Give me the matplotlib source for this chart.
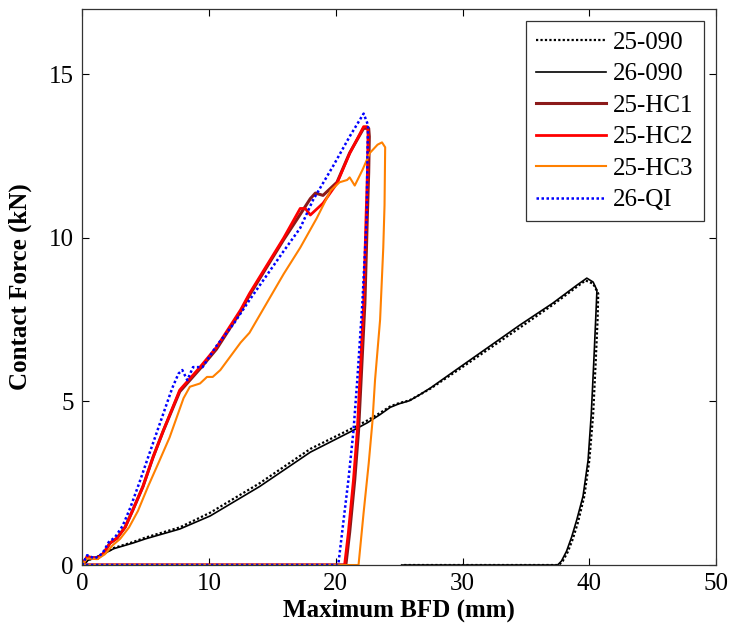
import matplotlib.pyplot as plt

# fonts: Times-like serif
plt.rcParams['font.family'] = 'Liberation Serif'
plt.rcParams['font.size'] = 18

# --- data ---
# 25-090 (dotted black)
x_25_090 = [0, 0.5, 1.5, 2.5, 4.0, 5.0, 7.7, 10.1, 14.0, 18.0, 21.4, 22.5, 23.5, 24.3, 25.0, 25.8,
            26.6, 27.5, 29.8, 34.5, 37.1, 39.0, 39.7, 40.3, 40.7, 40.65, 40.5, 40.3, 40.0, 39.6,
            39.1, 38.7, 38.3, 37.9, 37.6, 25.2]
y_25_090 = [0, 0.15, 0.3, 0.52, 0.7, 0.84, 1.15, 1.6, 2.5, 3.55, 4.2, 4.42, 4.65, 4.85, 4.95, 5.03,
            5.2, 5.4, 6.0, 7.25, 7.95, 8.5, 8.7, 8.6, 8.3, 7.5, 6.2, 4.6, 3.2, 2.1,
            1.3, 0.8, 0.4, 0.12, 0, 0]
# 26-090 (solid black)
x_26_090 = [0, 0.5, 1.5, 2.5, 4.0, 5.0, 7.7, 10.1, 14.0, 18.0, 21.4, 22.5, 23.5, 24.3, 25.0, 25.8,
            26.6, 27.5, 29.8, 34.5, 37.1, 39.0, 39.8, 40.3, 40.6, 40.5, 40.35, 40.15, 39.9, 39.5,
            39.0, 38.6, 38.2, 37.8, 37.5, 25.2]
y_26_090 = [0, 0.15, 0.3, 0.5, 0.67, 0.8, 1.1, 1.5, 2.4, 3.45, 4.12, 4.35, 4.6, 4.82, 4.93, 5.02,
            5.2, 5.42, 6.05, 7.33, 8.0, 8.55, 8.77, 8.65, 8.4, 7.5, 6.2, 4.6, 3.2, 2.1,
            1.37, 0.85, 0.42, 0.12, 0, 0]
# 25-HC1 (dark red)
x_hc1 = [0, 0.4, 1.2, 1.7, 2.2, 2.75, 3.4, 4.0, 4.8, 5.6, 6.4, 7.7, 9.3, 10.6, 12.5, 13.2,
         15.9, 17.0, 18.0, 18.4, 19.0, 20.1, 21.1, 22.2, 22.6,
         22.65, 22.6, 22.5, 22.3, 22.0, 21.8, 21.5, 21.1, 20.8, 0]
y_hc1 = [0, 0.25, 0.2, 0.36, 0.67, 0.82, 1.16, 1.68, 2.4, 3.3, 4.1, 5.3, 6.0, 6.6, 7.75, 8.25,
         9.95, 10.6, 11.2, 11.37, 11.3, 11.7, 12.6, 13.35, 13.35,
         13.1, 12.0, 10.75, 8.0, 5.65, 4.1, 2.6, 1.0, 0, 0]
# 25-HC2 (red)
x_hc2 = [0, 0.4, 1.2, 1.7, 2.2, 2.75, 3.4, 4.0, 4.8, 5.6, 6.4, 7.7, 9.3, 10.6, 12.5, 13.2,
         15.9, 17.2, 17.6, 18.0, 19.0, 20.1, 21.1, 22.2, 22.5,
         22.55, 22.5, 22.4, 22.2, 21.9, 21.7, 21.4, 21.0, 20.7, 0]
y_hc2 = [0, 0.25, 0.2, 0.36, 0.67, 0.82, 1.16, 1.68, 2.4, 3.3, 4.1, 5.35, 6.05, 6.66, 7.8, 8.3,
         10.0, 10.9, 10.9, 10.7, 11.06, 11.67, 12.58, 13.4, 13.4,
         13.2, 12.0, 10.75, 8.0, 5.65, 4.1, 2.6, 1.0, 0, 0]
# 25-HC3 (orange)
x_hc3 = [0, 0.4, 1.2, 1.8, 2.4, 3.0, 3.7, 4.4, 5.2, 6.0, 6.9, 8.0, 8.5, 9.3, 9.85, 10.3, 10.9,
         12.5, 13.2, 15.9, 17.2, 18.5, 19.6, 20.3, 20.9, 21.1, 21.5, 22.1, 22.7, 23.3, 23.65, 23.9,
         23.85, 23.75, 23.5, 23.1, 22.9, 22.6, 22.2, 21.8, 0]
y_hc3 = [0, 0.2, 0.18, 0.33, 0.6, 0.8, 1.15, 1.65, 2.4, 3.1, 3.9, 5.1, 5.45, 5.55, 5.75, 5.75, 5.96,
         6.8, 7.1, 8.9, 9.7, 10.6, 11.45, 11.7, 11.77, 11.85, 11.6, 12.07, 12.6, 12.85, 12.92, 12.77,
         11.0, 9.7, 7.5, 5.65, 4.4, 3.1, 1.6, 0, 0]
# 26-QI (blue dotted)
x_qi = [0, 0.4, 1.0, 1.6, 2.1, 2.6, 3.2, 3.8, 4.5, 5.3, 6.2, 7.1, 7.6, 7.9, 8.3, 8.75, 9.5,
        10.6, 12.0, 13.2, 15.9, 17.2, 18.2, 19.8, 21.1, 22.2, 22.55,
        22.5, 22.45, 22.1, 21.7, 21.4, 21.0, 20.5, 20.2, 0]
y_qi = [0, 0.3, 0.2, 0.35, 0.7, 0.85, 1.2, 1.75, 2.5, 3.4, 4.4, 5.4, 5.85, 5.96, 5.65, 6.05, 6.05,
        6.7, 7.4, 8.1, 9.6, 10.3, 11.15, 12.2, 13.1, 13.8, 13.45,
        12.5, 10.7, 8.0, 5.65, 4.1, 2.6, 0.98, 0, 0]

fig = plt.figure(figsize=(7.33, 6.37), dpi=100)
ax = fig.add_axes([0.112, 0.113, 0.865, 0.873])

ax.plot(x_25_090, y_25_090, color='k', ls=(0, (1, 1)), lw=1.6, label='25-090')
ax.plot(x_26_090, y_26_090, color='k', ls='-', lw=1.2, label='26-090')
ax.plot(x_hc1, y_hc1, color='#8B1A1A', lw=2.2, label='25-HC1')
ax.plot(x_hc2, y_hc2, color='#FF0000', lw=2.0, label='25-HC2')
ax.plot(x_hc3, y_hc3, color='#FF8000', lw=1.5, label='25-HC3')
ax.plot(x_qi, y_qi, color='#0000FF', ls=(0, (1, 1)), lw=1.8, label='26-QI')

ax.set_xlim(0, 50)
ax.set_ylim(0, 17)
ax.set_xticks([0, 10, 20, 30, 40, 50])
ax.set_yticks([0, 5, 10, 15])
ax.tick_params(direction='in', top=True, right=True, length=5, width=0.8, pad=6)
for s in ax.spines.values():
    s.set_color('#333333')
    s.set_linewidth(0.9)

ax.set_xlabel('Maximum BFD (mm)', fontweight='bold', labelpad=2)
ax.set_ylabel('Contact Force (kN)', fontweight='bold', labelpad=12)

leg = ax.legend(loc='upper right', fancybox=False, edgecolor='#333333', framealpha=1,
                handlelength=2.8, labelspacing=0.36, borderpad=0.4, handletextpad=0.3,
                borderaxespad=0.5)
leg.get_frame().set_linewidth(0.9)

fig.savefig('out.png', dpi=100)
